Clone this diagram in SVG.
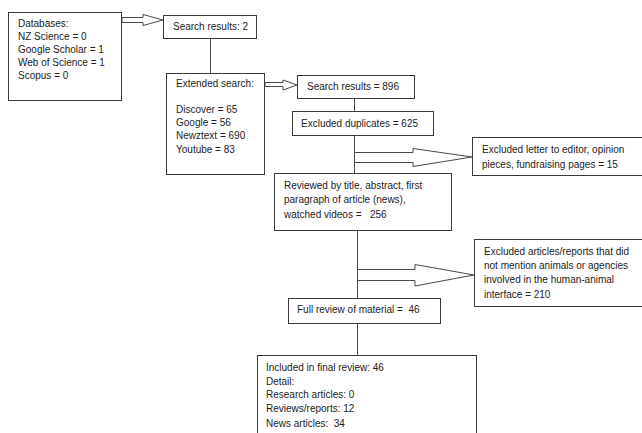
<svg xmlns="http://www.w3.org/2000/svg" width="642" height="433" viewBox="0 0 642 433">
<style>
.box{fill:#fff;stroke:#3a3a3a;stroke-width:1}
.ln{fill:none;stroke:#4a4a4a;stroke-width:1}
.arr{fill:#fff;stroke:#4a4a4a;stroke-width:1;stroke-linejoin:miter}
text{font-family:"Liberation Sans",Arial,sans-serif;font-size:10px;fill:#222}
</style>
<rect width="642" height="433" fill="#fff"/>
<g id="connectors">
<line class="ln" x1="210.5" y1="38" x2="210.5" y2="73"/>
<line class="ln" x1="354.5" y1="98" x2="354.5" y2="112"/>
<line class="ln" x1="354.5" y1="136" x2="354.5" y2="173"/>
<line class="ln" x1="357.5" y1="231" x2="357.5" y2="298"/>
<line class="ln" x1="357.5" y1="323" x2="357.5" y2="355"/>
<polygon class="arr" points="122,17.5 143,17.5 143,14.5 163,20 143,25.5 143,22.5 122,22.5"/>
<polygon class="arr" points="265,82.5 283,82.5 283,80 297,85 283,90 283,86.5 265,86.5"/>
<polygon class="arr" points="354.5,152.5 413,152.5 413,148.5 472,157 413,166.5 413,162.5 354.5,162.5"/>
<polygon class="arr" points="357.5,269.5 415,269.5 415,264.5 474,275 415,286 415,280.5 357.5,280.5"/>
</g>
<g id="databases">
<rect class="box" x="8.5" y="12.5" width="113" height="88"/>
<text x="18" y="27">Databases:</text>
<text x="18" y="40">NZ Science = 0</text>
<text x="18" y="53">Google Scholar = 1</text>
<text x="18" y="66">Web of Science = 1</text>
<text x="18" y="79">Scopus = 0</text>
</g>
<g id="search2">
<rect class="box" x="163.5" y="15.5" width="93" height="23"/>
<text x="173" y="30">Search results: 2</text>
</g>
<g id="extended">
<rect class="box" x="166.5" y="73.5" width="98" height="101"/>
<text x="176" y="87">Extended search:</text>
<text x="176" y="113">Discover = 65</text>
<text x="176" y="126">Google = 56</text>
<text x="176" y="139">Newztext = 690</text>
<text x="176" y="153">Youtube = 83</text>
</g>
<g id="search896">
<rect class="box" x="297.5" y="75.5" width="117" height="23"/>
<text x="307" y="90">Search results = 896</text>
</g>
<g id="duplicates">
<rect class="box" x="292.5" y="111.5" width="141" height="24"/>
<text x="301" y="127">Excluded duplicates = 625</text>
</g>
<g id="excluded-letters">
<rect class="box" x="472.5" y="137.5" width="170" height="38"/>
<text x="482" y="153">Excluded letter to editor, opinion</text>
<text x="482" y="168">pieces, fundraising pages = 15</text>
</g>
<g id="reviewed">
<rect class="box" x="274.5" y="173.5" width="177" height="57"/>
<text x="284" y="189">Reviewed by title, abstract, first</text>
<text x="284" y="203">paragraph of article (news),</text>
<text x="284" y="218" xml:space="preserve">watched videos =   256</text>
</g>
<g id="excluded-articles">
<rect class="box" x="474.5" y="239.5" width="168" height="67"/>
<text x="484" y="255">Excluded articles/reports that did</text>
<text x="484" y="269">not mention animals or agencies</text>
<text x="484" y="283">involved in the human-animal</text>
<text x="484" y="298">interface = 210</text>
</g>
<g id="full-review">
<rect class="box" x="288.5" y="298.5" width="152" height="25"/>
<text x="297" y="313" xml:space="preserve">Full review of material =  46</text>
</g>
<g id="included">
<rect class="box" x="257.5" y="355.5" width="219" height="85"/>
<text x="266" y="371">Included in final review: 46</text>
<text x="266" y="385">Detail:</text>
<text x="266" y="398">Research articles: 0</text>
<text x="266" y="412">Reviews/reports: 12</text>
<text x="266" y="427" xml:space="preserve">News articles:  34</text>
</g>
</svg>
